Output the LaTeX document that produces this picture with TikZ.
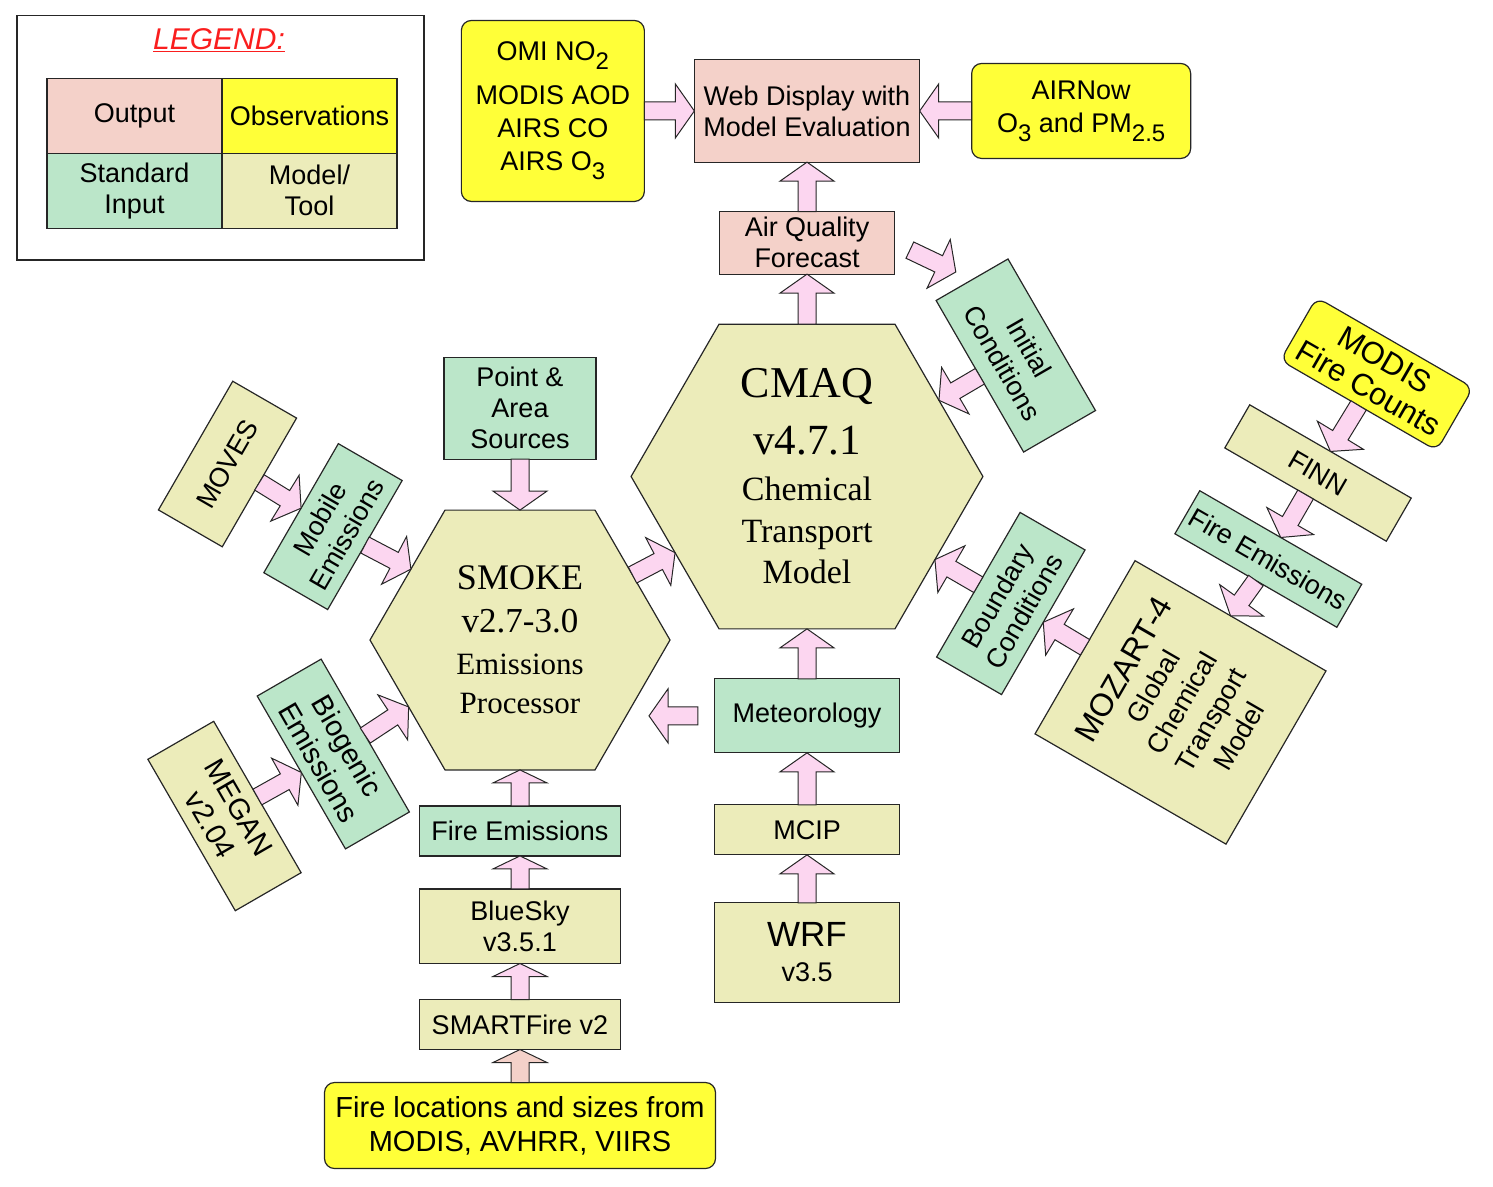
\documentclass[tikz,border=0pt]{standalone}
\usepackage{fontspec}
\setsansfont{Liberation Sans}
\newfontfamily\hexfont{Liberation Serif}
\usepackage{xcolor}
\usepackage{tikz}
\usetikzlibrary{shapes.geometric, positioning, calc}

\definecolor{outpink}{RGB}{244,209,201}
\definecolor{obsyellow}{RGB}{255,255,56}
\definecolor{ingreen}{RGB}{187,230,201}
\definecolor{modkhaki}{RGB}{236,236,186}
\definecolor{arrpink}{RGB}{252,214,240}
\definecolor{legendred}{RGB}{250,30,30}

% keys for the fat block arrows
\tikzset{
  fa shaft/.store in=\fashaft, fa head/.store in=\fahead, fa len/.store in=\falen,
  fa gap a/.store in=\fagapa, fa gap b/.store in=\fagapb, fa fill/.store in=\fafill,
  fat/.style={fa shaft=9pt, fa head=27pt, fa len=19pt, fa gap a=0pt, fa gap b=0pt, fa fill=arrpink},
}
\newcommand{\fatarrow}[3][]{%
  \begin{scope}[fat, #1]
    \coordinate (fa-s) at ($(#2)!\fagapa!(#3)$);
    \coordinate (fa-t) at ($(#3)!\fagapb!(#2)$);
    \coordinate (fa-h) at ($(fa-t)!\falen!(fa-s)$);
    \path [blockarrow] ($(fa-s)!\fashaft!90:(fa-t)$) -- ($(fa-h)!\fashaft!90:(fa-t)$)
      -- ($(fa-h)!\fahead!90:(fa-t)$) -- (fa-t) -- ($(fa-h)!\fahead!-90:(fa-t)$)
      -- ($(fa-h)!\fashaft!-90:(fa-t)$) -- ($(fa-s)!\fashaft!-90:(fa-t)$) -- cycle;
  \end{scope}}
\newcommand{\sublow}[1]{\raisebox{-9pt}{\fontsize{24}{24}\selectfont #1}}

\begin{document}
\begin{tikzpicture}[x=1pt, y=-1pt, font=\sffamily\fontsize{27}{31}\selectfont]
    % Node Styles
    \tikzstyle{box} = [rectangle, draw=black!85, line width=1.2pt, align=center, inner sep=2pt, outer sep=0pt]
    \tikzstyle{output} = [box, fill=outpink]
    \tikzstyle{obs} = [box, fill=obsyellow, rounded corners=10pt]
    \tikzstyle{input} = [box, fill=ingreen]
    \tikzstyle{model} = [box, fill=modkhaki]
    \tikzstyle{hexmodel} = [regular polygon, regular polygon sides=6, draw=black!85, line width=1.2pt, fill=modkhaki, align=center, inner sep=0pt, outer sep=0pt]
    \tikzstyle{legcell} = [box, minimum width=175pt, minimum height=75pt, inner sep=0pt]
    \tikzstyle{blockarrow} = [draw=black!85, line width=1pt, fill=\fafill, line join=miter]

    \useasboundingbox (0,0) rectangle (1493,1186);

    % --- LEGEND ---
    \node [draw=black!85, line width=1.2pt, minimum width=407pt, minimum height=244.3pt] (legend) at (220.5,137.85) {};
    \node [text=legendred, font=\sffamily\itshape\fontsize{30}{34}\selectfont] (ltitle) at (219,40) {\underline{LEGEND:}};
    \node [legcell, fill=outpink] (lout) at (134.5,115.8) {Output};
    \node [legcell, fill=obsyellow, right=0pt of lout] (lobs) {Observations};
    \node [legcell, fill=ingreen, below=0pt of lout] (lin) {Standard\\Input};
    \node [legcell, fill=modkhaki, right=0pt of lin] (lmod) {Model/\\Tool};

    % --- CENTRE: CMAQ AND ITS OUTPUTS ---
    \node [hexmodel, minimum size=349pt, font=\hexfont\fontsize{34}{41}\selectfont] (cmaq) at (807,476.5)
        {{\fontsize{44}{44}\selectfont CMAQ}\\[16pt]{\fontsize{43}{43}\selectfont v4.7.1}\\[5pt]Chemical\\[1pt]Transport\\Model};
    \node [output, minimum width=175pt, minimum height=62.6pt, above=50pt of cmaq] (aqf) {Air Quality\\Forecast};
    \node [output, minimum width=225.3pt, minimum height=102.3pt, above=49.4pt of aqf] (web) {Web Display with\\Model Evaluation};
    \node [obs, minimum width=183pt, minimum height=181pt, left=50pt of web, font=\sffamily\fontsize{27}{33}\selectfont] (omi)
        {OMI NO\sublow{2}\\[11pt]MODIS AOD\\AIRS CO\\AIRS O\sublow{3}};
    \node [obs, minimum width=219pt, minimum height=95pt, right=52pt of web, font=\sffamily\fontsize{27}{33}\selectfont] (airnow)
        {AIRNow\\O\sublow{3} and PM\sublow{2.5}};
    \node [input, minimum width=175pt, minimum height=83pt, rotate=-60] (init) at (1015.8,355.5) {Initial\\Conditions};
    \node [input, minimum width=167pt, minimum height=75pt, rotate=60] (bound) at (1010.8,603.5) {Boundary\\Conditions};

    % --- METEOROLOGY COLUMN ---
    \node [input, minimum width=184.5pt, minimum height=74pt, below=50pt of cmaq] (met) {Meteorology};
    \node [model, minimum width=184.5pt, minimum height=50pt, below=52pt of met] (mcip) {MCIP};
    \node [model, minimum width=184.5pt, minimum height=99.4pt, below=48pt of mcip] (wrf) {{\fontsize{35}{40}\selectfont WRF}\\[4pt]v3.5};

    % --- SMOKE AND EMISSIONS ---
    \node [hexmodel, minimum size=300pt, font=\hexfont\fontsize{31}{39}\selectfont] (smoke) at (520,640)
        {{\fontsize{36}{36}\selectfont SMOKE}\\[4pt]{\fontsize{35}{35}\selectfont v2.7-3.0}\\[3pt]Emissions\\Processor};
    \node [input, minimum width=152pt, minimum height=102pt, above=51pt of smoke] (point) {Point \&\\Area\\Sources};
    \node [input, minimum width=200.4pt, minimum height=50pt, below=36pt of smoke] (fireb) {Fire Emissions};
    \node [model, minimum width=200.4pt, minimum height=74.6pt, below=33pt of fireb] (bluesky) {BlueSky\\v3.5.1};
    \node [model, minimum width=200.4pt, minimum height=50pt, below=36pt of bluesky] (smart) {SMARTFire v2};
    \node [obs, minimum width=391pt, minimum height=86pt, below=33pt of smart, font=\sffamily\fontsize{29}{34}\selectfont] (fireloc)
        {Fire locations and sizes from\\MODIS, AVHRR, VIIRS};
    \node [model, minimum width=148.6pt, minimum height=73.7pt, rotate=60] (moves) at (227.5,464) {MOVES};
    \node [input, minimum width=149pt, minimum height=73.7pt, rotate=60] (mobile) at (333,526.6) {Mobile\\Emissions};
    \node [input, minimum width=176.5pt, minimum height=73.8pt, rotate=-60, font=\sffamily\fontsize{29}{33}\selectfont] (bio) at (333.3,754) {Biogenic\\Emissions};
    \node [model, minimum width=174.8pt, minimum height=76pt, rotate=-60, font=\sffamily\fontsize{29}{33}\selectfont] (megan) at (224.5,816) {MEGAN\\v2.04};

    % --- GLOBAL MODEL CHAIN ---
    \node [obs, minimum width=180.6pt, minimum height=72.6pt, rotate=-30, font=\sffamily\fontsize{31}{33}\selectfont] (modis) at (1376.7,374) {MODIS\\Fire Counts};
    \node [model, minimum width=186.5pt, minimum height=49.8pt, rotate=-30] (finn) at (1318,473) {FINN};
    \node [input, minimum width=187pt, minimum height=49.7pt, rotate=-30] (firef) at (1268.3,559) {Fire Emissions};
    \node [model, minimum width=200pt, minimum height=220.5pt, rotate=60, font=\sffamily\fontsize{27}{33}\selectfont] (mozart) at (1180.5,702.4)
        {{\fontsize{32}{32}\selectfont MOZART-4}\\Global\\Chemical\\Transport\\Model};

    \coordinate (smokeside) at (met.west -| smoke.center);

    % --- PATHS ---
    \fatarrow{omi.east}{web.west}
    \fatarrow{airnow.west}{web.east}
    \fatarrow{aqf.north}{web.south}
    \fatarrow{cmaq.north}{aqf.south}
    \fatarrow[fa gap a=17pt, fa gap b=18pt]{aqf.east}{init.west}
    \fatarrow{init.south}{cmaq.30}
    \fatarrow{bound.north}{cmaq.-33}
    \fatarrow{mozart.north}{bound.south}
    \fatarrow{modis.south}{finn.north}
    \fatarrow{finn.south}{firef.north}
    \fatarrow{firef.south}{mozart.east}

    \fatarrow{met.north}{cmaq.south}
    \fatarrow{mcip.north}{met.south}
    \fatarrow{wrf.north}{mcip.south}
    \fatarrow[fa gap a=17pt, fa gap b=129pt]{met.west}{smokeside}
    \fatarrow{smoke.30}{cmaq.210}

    \fatarrow{point.south}{smoke.north}
    \fatarrow[fa len=13pt]{fireb.north}{smoke.south}
    \fatarrow[fa len=13pt]{bluesky.north}{fireb.south}
    \fatarrow[fa len=13pt]{smart.north}{bluesky.south}
    \fatarrow[fa len=13pt, fa fill=outpink]{fireloc.north}{smart.south}
    \fatarrow{moves.south}{mobile.north}
    \fatarrow{mobile.south}{smoke.147}
    \fatarrow{megan.north}{bio.south}
    \fatarrow{bio.north}{smoke.211}

\end{tikzpicture}
\end{document}
